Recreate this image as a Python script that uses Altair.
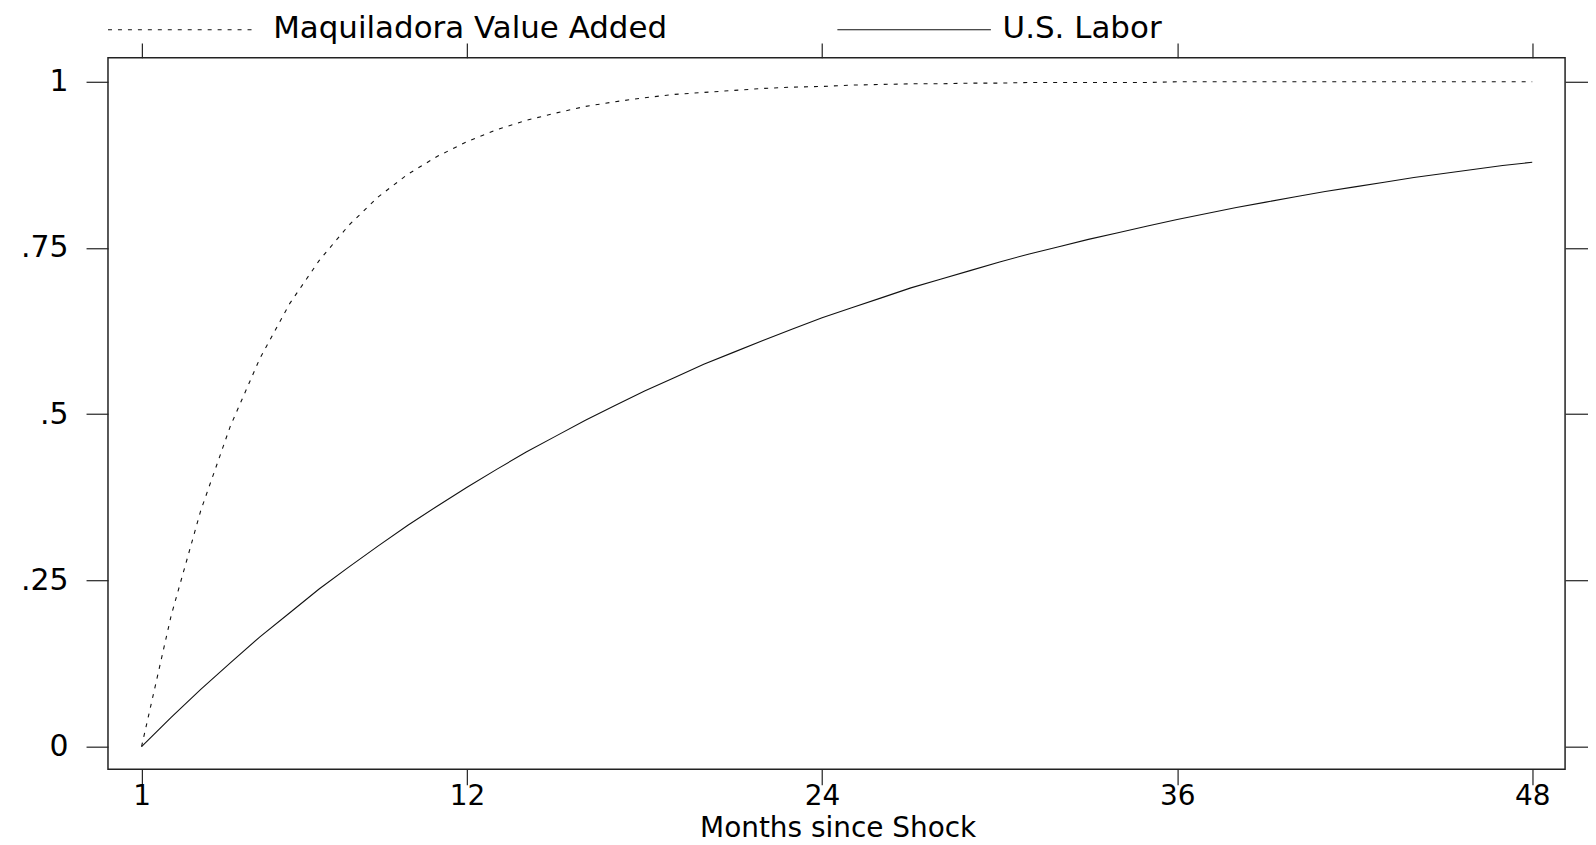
import json
import altair as alt
import pandas as pd

# ---- data ----
months = list(range(1, 49))
maquiladora = [
    0.000, 0.197, 0.355, 0.482, 0.584, 0.666, 0.731, 0.784, 0.827, 0.861,
    0.888, 0.910, 0.928, 0.942, 0.953, 0.963, 0.970, 0.976, 0.981, 0.984,
    0.987, 0.990, 0.992, 0.993, 0.995, 0.996, 0.997, 0.997, 0.998, 0.998,
    0.999, 0.999, 0.999, 0.999, 0.999, 1.000, 1.000, 1.000, 1.000, 1.000,
    1.000, 1.000, 1.000, 1.000, 1.000, 1.000, 1.000, 1.000,
]
us_labor = [
    0.000, 0.044, 0.086, 0.126, 0.165, 0.201, 0.237, 0.270, 0.302, 0.333,
    0.362, 0.390, 0.417, 0.443, 0.467, 0.491, 0.513, 0.535, 0.555, 0.575,
    0.593, 0.611, 0.628, 0.645, 0.660, 0.675, 0.690, 0.703, 0.716, 0.729,
    0.741, 0.752, 0.763, 0.773, 0.783, 0.793, 0.802, 0.811, 0.819, 0.827,
    0.835, 0.842, 0.849, 0.856, 0.862, 0.868, 0.874, 0.879,
]
x_ticks = [1, 12, 24, 36, 48]
y_ticks = [0, 0.25, 0.5, 0.75, 1]
y_tick_labels = ["0", ".25", ".5", ".75", "1"]
legend_labels = ["Maquiladora Value Added", "U.S. Labor"]
x_title = "Months since Shock"

# ---- styling ----
FONT = "DejaVu Sans"
FS = 28          # x tick labels and x title
FS_Y = 30        # y tick labels
FS_LEG = 31      # legend labels
INK = "#111111"

df = pd.DataFrame({"month": months, "maq": maquiladora, "labor": us_labor})

xs = alt.Scale(domain=[-0.135, 49.11], nice=False, zero=False)
ys = alt.Scale(domain=[-0.034, 1.036], nice=False, zero=False)

y_label_expr = "{}[indexof({}, datum.value)]".format(
    json.dumps(y_tick_labels), json.dumps(y_ticks)
)

common_axis = dict(
    domain=False, grid=False, title=None, tickColor="#222222", tickWidth=1.2,
    labelFont=FONT, labelColor="black", labelFlush=False, labelOverlap=False,
)

maq_line = alt.Chart(df).mark_line(
    color=INK, strokeWidth=1.1, strokeDash=[4, 6]
).encode(
    x=alt.X("month:Q", scale=xs,
            axis=alt.Axis(orient="bottom", values=x_ticks, tickSize=15.5,
                          labelPadding=-2, labelFontSize=FS, **common_axis)),
    y=alt.Y("maq:Q", scale=ys,
            axis=alt.Axis(orient="left", values=y_ticks, tickSize=22,
                          labelPadding=18, labelFontSize=FS_Y,
                          labelExpr=y_label_expr, **common_axis)),
)

labor_line = alt.Chart(df).mark_line(
    color=INK, strokeWidth=1.1
).encode(
    x=alt.X("month:Q", scale=xs,
            axis=alt.Axis(orient="top", values=x_ticks, tickSize=15,
                          labels=False, **common_axis)),
    y=alt.Y("labor:Q", scale=ys,
            axis=alt.Axis(orient="right", values=y_ticks, tickSize=22.7,
                          labels=False, **common_axis)),
)

leg1 = pd.DataFrame({"label": [legend_labels[0]]})
leg2 = pd.DataFrame({"label": [legend_labels[1]]})
title_df = pd.DataFrame({"label": [x_title]})

LEG_LINE_Y = -28.2
LEG_TEXT_Y = -19.7

leg1_line = alt.Chart(leg1).mark_rule(
    color=INK, strokeWidth=1.1, strokeDash=[4, 6]
).encode(x=alt.value(0), x2=alt.value(147), y=alt.value(LEG_LINE_Y))
leg1_text = alt.Chart(leg1).mark_text(
    align="left", baseline="alphabetic", font=FONT, fontSize=FS_LEG, color="black"
).encode(x=alt.value(165.7), y=alt.value(LEG_TEXT_Y), text="label:N")

leg2_line = alt.Chart(leg2).mark_rule(
    color=INK, strokeWidth=1.1
).encode(x=alt.value(731.7), x2=alt.value(885.7), y=alt.value(LEG_LINE_Y))
leg2_text = alt.Chart(leg2).mark_text(
    align="left", baseline="alphabetic", font=FONT, fontSize=FS_LEG, color="black"
).encode(x=alt.value(897.4), y=alt.value(LEG_TEXT_Y), text="label:N")

title_text = alt.Chart(title_df).mark_text(
    align="center", baseline="alphabetic", font=FONT, fontSize=FS, color="black"
).encode(x=alt.value(732.5), y=alt.value(781.5), text="label:N")

chart = alt.layer(
    maq_line, labor_line, leg1_line, leg1_text, leg2_line, leg2_text, title_text
).resolve_axis(
    x="independent", y="independent"
).properties(
    width=1461.7,
    height=713.6,
    padding={"left": 100.3, "top": 48.7, "right": 23, "bottom": 74.9},
    autosize=alt.AutoSizeParams(type="none"),
    background="white",
).configure_view(
    stroke="#222222", strokeWidth=1.5
)

chart.save("out.html", embed_options={"renderer": "svg", "actions": False})
